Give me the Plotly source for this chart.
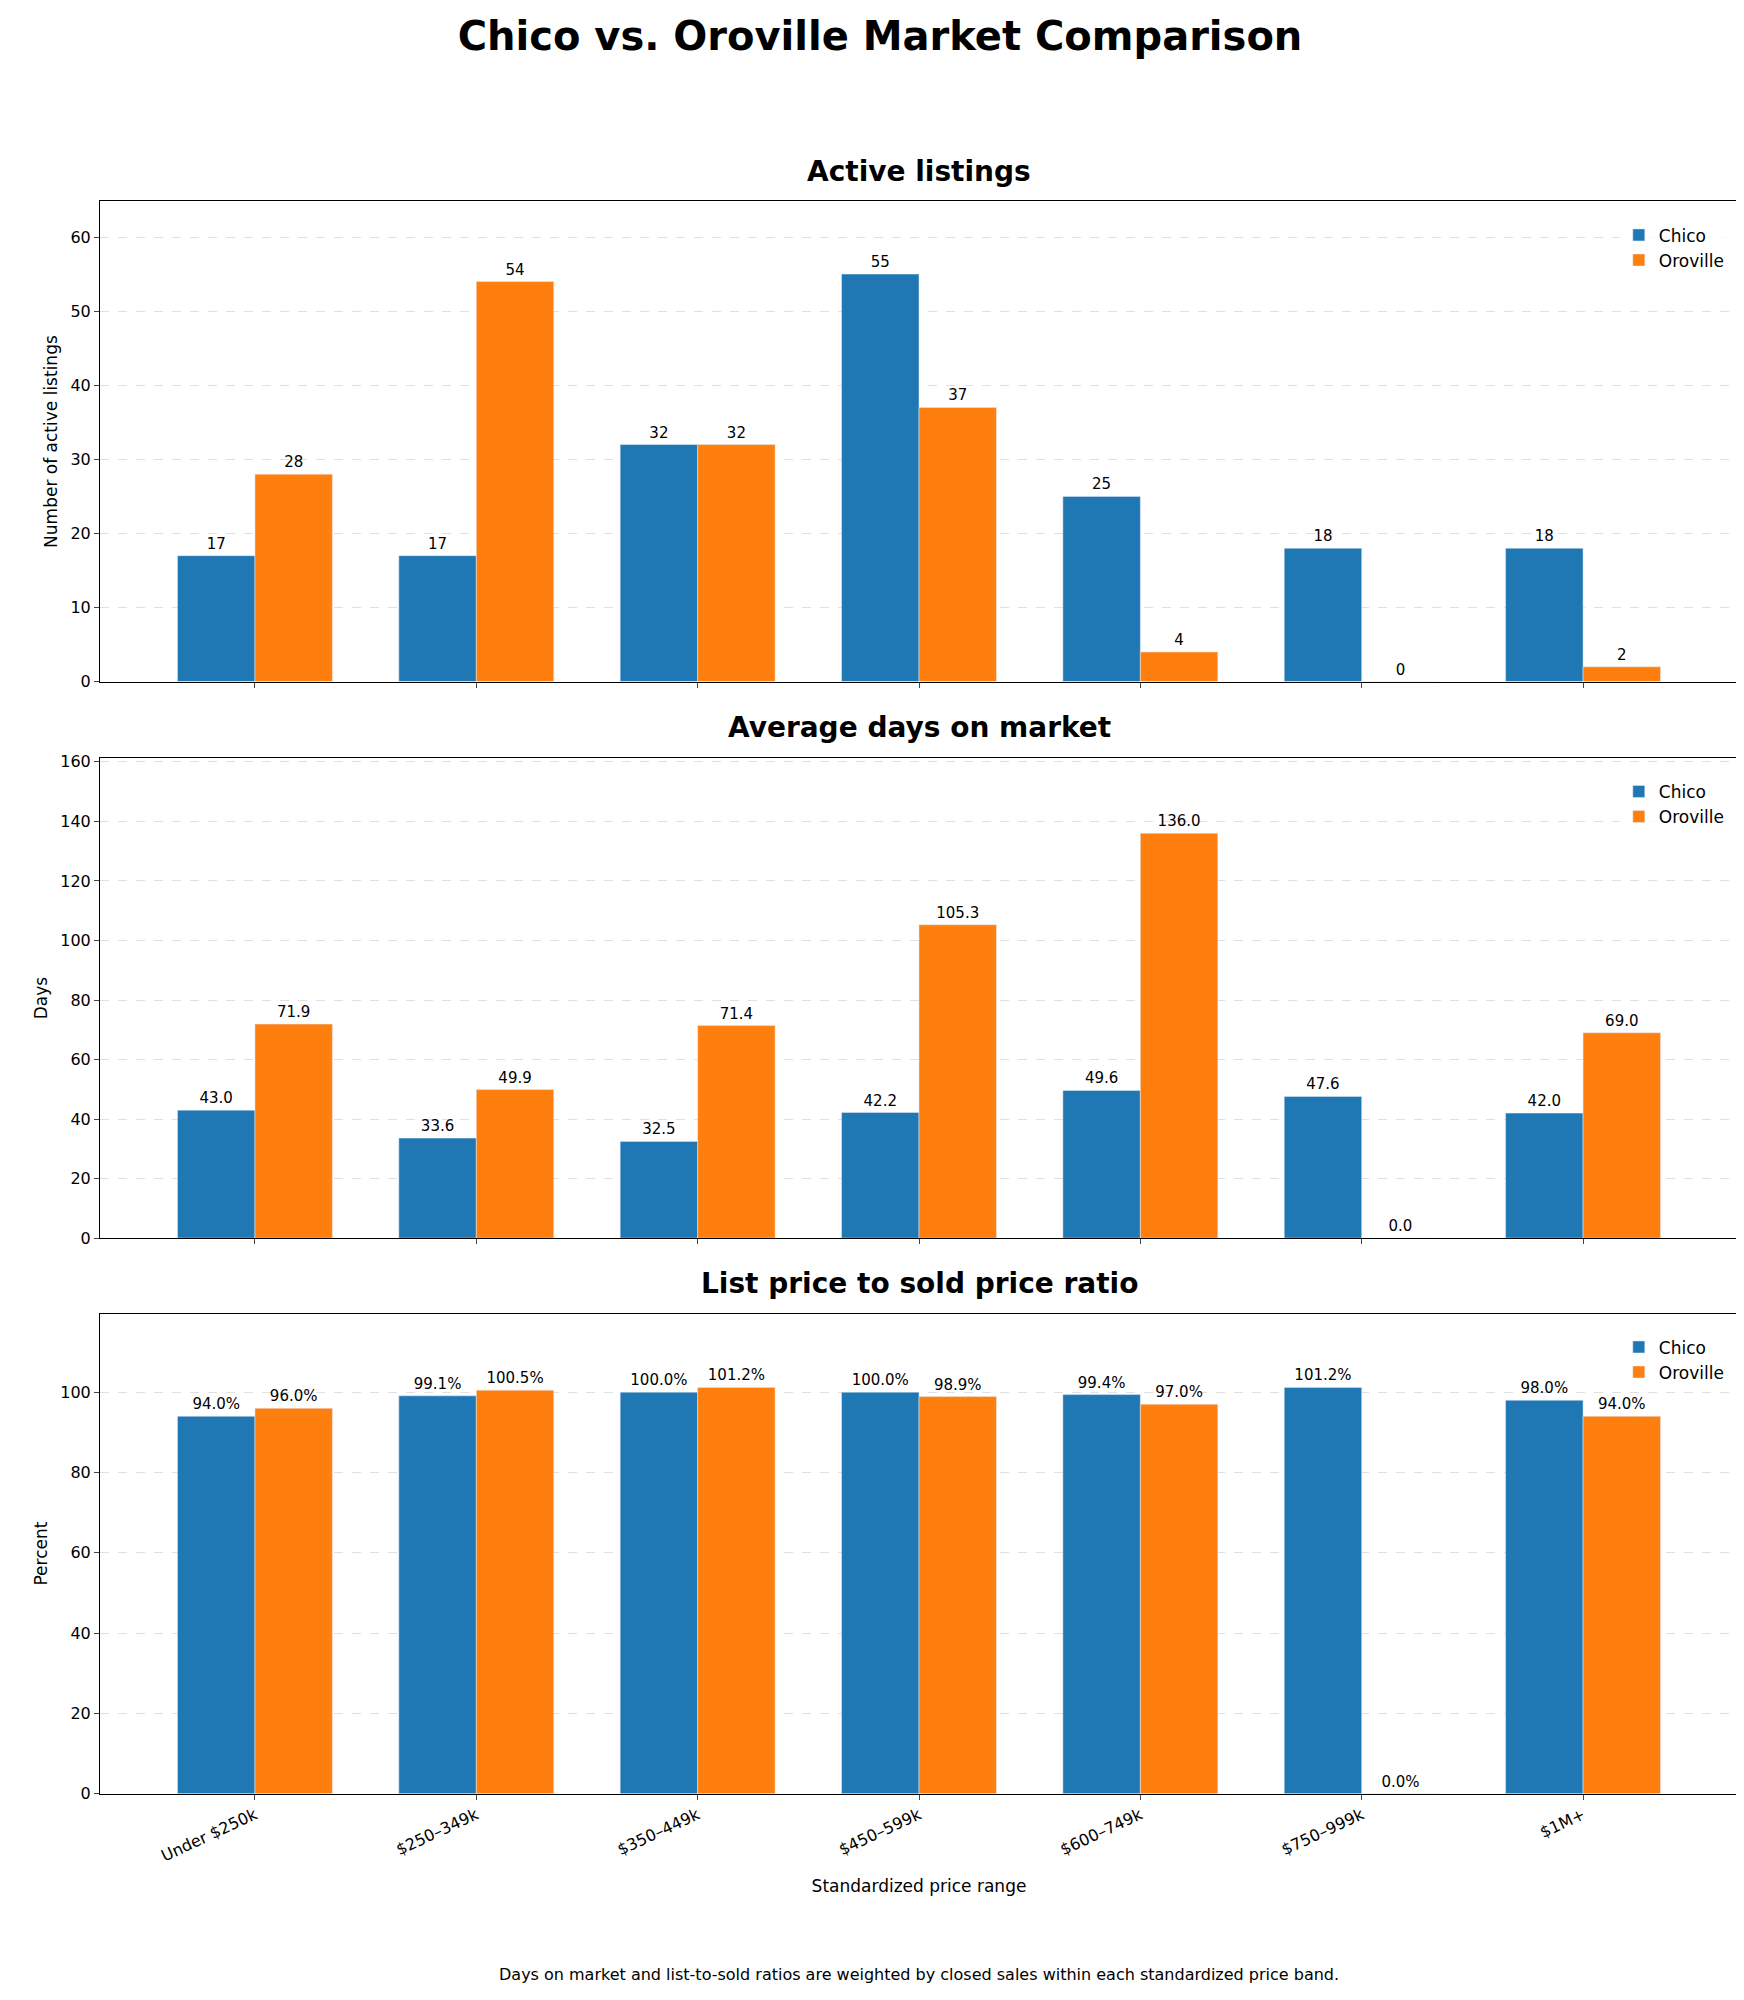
import plotly.graph_objects as go
from plotly.subplots import make_subplots

price_ranges = ["Under $250k", "$250–349k", "$350–449k", "$450–599k", "$600–749k", "$750–999k", "$1M+"]
chico_listings = [17, 17, 32, 55, 25, 18, 18]
oroville_listings = [28, 54, 32, 37, 4, 0, 2]
chico_dom = [43.0, 33.6, 32.5, 42.2, 49.6, 47.6, 42.0]
oroville_dom = [71.9, 49.9, 71.4, 105.3, 136.0, 0.0, 69.0]
chico_ratio = [94.0, 99.1, 100.0, 100.0, 99.4, 101.2, 98.0]
oroville_ratio = [96.0, 100.5, 101.2, 98.9, 97.0, 0.0, 94.0]

BLUE = "#1f77b4"
ORANGE = "#ff7f0e"
FONT = "DejaVu Sans"

fig = make_subplots(rows=3, cols=1, shared_xaxes=False)

panels = [
    (chico_listings, oroville_listings, "{:.0f}", "Active listings", "Number of active listings", [0, 64.8], 10),
    (chico_dom, oroville_dom, "{:.1f}", "Average days on market", "Days", [0, 161.3], 20),
    (chico_ratio, oroville_ratio, "{:.1f}%", "List price to sold price ratio", "Percent", [0, 119.6], 20),
]
domains = [(0.6635, 0.9055), (0.383, 0.625), (0.103, 0.345)]

for i, (c, o, fmt, title, ytitle, yr, dt) in enumerate(panels):
    row = i + 1
    lg = "legend" if i == 0 else f"legend{row}"
    for name, vals, col in [("Chico", c, BLUE), ("Oroville", o, ORANGE)]:
        fig.add_trace(go.Bar(
            x=price_ranges, y=vals, name=name, marker_color=col, width=0.35,
            text=[fmt.format(v) for v in vals], textposition="outside",
            textfont=dict(size=15, color="black"), cliponaxis=False,
            legend=lg,
        ), row=row, col=1)
    d = domains[i]
    fig.update_yaxes(domain=list(d), range=yr, dtick=dt, title_text=ytitle,
                     title_font=dict(size=17), title_standoff=8,
                     showgrid=True, gridcolor="#e0e0e0", griddash="dash",
                     showline=True, mirror=True, linecolor="black",
                     ticks="outside", tickfont=dict(size=16), zeroline=False,
                     row=row, col=1)
    fig.update_xaxes(range=[-0.7, 6.7], showline=True, mirror=True, linecolor="black",
                     ticks="outside", showgrid=False,
                     showticklabels=(row == 3), tickangle=-25, tickfont=dict(size=16),
                     row=row, col=1)
    fig.add_annotation(text=f"<b>{title}</b>", xref="paper", yref="paper",
                       x=0.5, y=d[1] + 0.006, xanchor="center", yanchor="bottom",
                       showarrow=False, font=dict(size=28, family=FONT))
    fig.update_layout({lg: dict(x=0.995, y=d[1] - 0.008, xanchor="right", yanchor="top",
                                bgcolor="rgba(255,255,255,0.8)", font=dict(size=17),
                                itemwidth=30, tracegroupgap=2)})

fig.update_xaxes(title_text="Standardized price range", title_font=dict(size=17), row=3, col=1)
fig.update_layout(
    width=1744, height=2000, barmode="group", bargap=0.3,
    font=dict(family=FONT, color="black"),
    plot_bgcolor="white", paper_bgcolor="white",
    margin=dict(l=92, r=14, t=0, b=0),
    title=dict(text="<b>Chico vs. Oroville Market Comparison</b>", x=0.5, xanchor="center",
               y=0.986, yanchor="middle", font=dict(size=40)),
)
fig.add_annotation(text="Days on market and list-to-sold ratios are weighted by closed sales within each standardized price band.",
                   xref="paper", yref="paper", x=0.5, y=0.012, xanchor="center", yanchor="middle",
                   showarrow=False, font=dict(size=16))
fig.write_html("out.html")
